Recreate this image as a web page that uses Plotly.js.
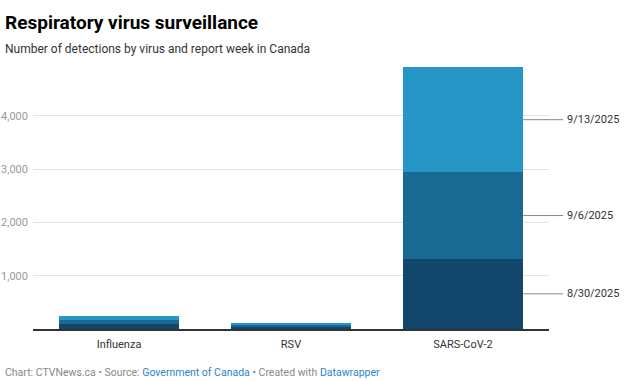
<!DOCTYPE html>
<html>
<head>
<meta charset="utf-8">
<script src="https://cdn.plot.ly/plotly-3.0.1.min.js"></script>
<style>
html,body{margin:0;padding:0;background:#fff;}
#chart{width:640px;height:381px;}
</style>
</head>
<body>
<div id="chart"></div>
<script>
// Data
const viruses = ["Influenza", "RSV", "SARS-CoV-2"];
const weeks = ["8/30/2025", "9/6/2025", "9/13/2025"];
const week0830 = [100, 40, 1319];
const week0906 = [75, 35, 1619];
const week0913 = [75, 38, 1977];
const yTickVals = [1000, 2000, 3000, 4000];
const yTickText = ["1,000", "2,000", "3,000", "4,000"];

const seriesValues = [week0830, week0906, week0913];
const colors = ["#12476b", "#196a92", "#2596c5"];
const FONT = "Roboto, 'Noto Sans', sans-serif";

const traces = seriesValues.map((vals, i) => ({
  type: "bar",
  name: weeks[i],
  x: viruses,
  y: vals,
  marker: { color: colors[i], line: { width: 0 } },
  hoverinfo: "skip"
}));

const totals = viruses.map((_, j) => seriesValues.reduce((s, v) => s + v[j], 0));
const maxTotal = Math.max(...totals);

const plotL = 33, plotW = 516, plotT = 67, plotH = 262;
const nCat = viruses.length;
const bargap = 0.3;
// paper x of the right edge of the last bar, and the end of the leader line
const lastIdx = nCat - 1;
const barRightPaper = (lastIdx + 0.5 + (1 - bargap) / 2) / nCat;
const lineEndPaper = barRightPaper + 40 / plotW;

const shapes = [];
const annotations = [];
let cum = 0;
seriesValues.forEach((vals, i) => {
  const mid = cum + vals[lastIdx] / 2;
  cum += vals[lastIdx];
  shapes.push({
    type: "line", xref: "paper", yref: "y",
    x0: barRightPaper, x1: lineEndPaper, y0: mid, y1: mid,
    line: { color: "#888", width: 1 }
  });
  annotations.push({
    xref: "paper", yref: "y", x: lineEndPaper, y: mid,
    xanchor: "left", yanchor: "middle", xshift: 2,
    text: weeks[i], showarrow: false,
    font: { family: FONT, size: 11, color: "#333" }
  });
});

function px(x) { return (x - plotL) / plotW; }
function py(y) { return 1 - (y - plotT) / plotH; }
annotations.push({
  xref: "paper", yref: "paper", x: px(3), y: py(22),
  xanchor: "left", yanchor: "middle", showarrow: false,
  text: "<b>Respiratory virus surveillance</b>",
  font: { family: FONT, size: 19, color: "#000" }
});
annotations.push({
  xref: "paper", yref: "paper", x: px(3), y: py(49),
  xanchor: "left", yanchor: "middle", showarrow: false,
  text: "Number of detections by virus and report week in Canada",
  font: { family: FONT, size: 12, color: "#333" }
});
annotations.push({
  xref: "paper", yref: "paper", x: px(3), y: py(372),
  xanchor: "left", yanchor: "middle", showarrow: false,
  text: "Chart: CTVNews.ca • Source: <span style='color:#2a86c7'>Government of Canada</span> • Created with <span style='color:#2a86c7'>Datawrapper</span>",
  font: { family: FONT, size: 10.5, color: "#888" }
});

const layout = {
  width: 640, height: 381,
  margin: { l: plotL, r: 640 - plotL - plotW, t: plotT, b: 381 - plotT - plotH, pad: 0 },
  paper_bgcolor: "#fff", plot_bgcolor: "#fff",
  barmode: "stack",
  bargap: bargap,
  showlegend: false,
  font: { family: FONT },
  xaxis: {
    type: "category",
    range: [-0.5, nCat - 0.5],
    showline: true, linecolor: "#333", linewidth: 1.5,
    ticks: "", showgrid: false, zeroline: false,
    tickfont: { family: FONT, size: 11, color: "#333" },
    ticklabelstandoff: 4
  },
  yaxis: {
    range: [0, maxTotal],
    tickvals: yTickVals, ticktext: yTickText,
    showgrid: true, gridcolor: "#e3e3e3", gridwidth: 1,
    zeroline: false, showline: false, ticks: "",
    tickfont: { family: FONT, size: 11, color: "#999" },
    ticklabelstandoff: 4
  },
  shapes: shapes,
  annotations: annotations
};

Plotly.newPlot("chart", traces, layout, { staticPlot: true, displayModeBar: false });
</script>
</body>
</html>
